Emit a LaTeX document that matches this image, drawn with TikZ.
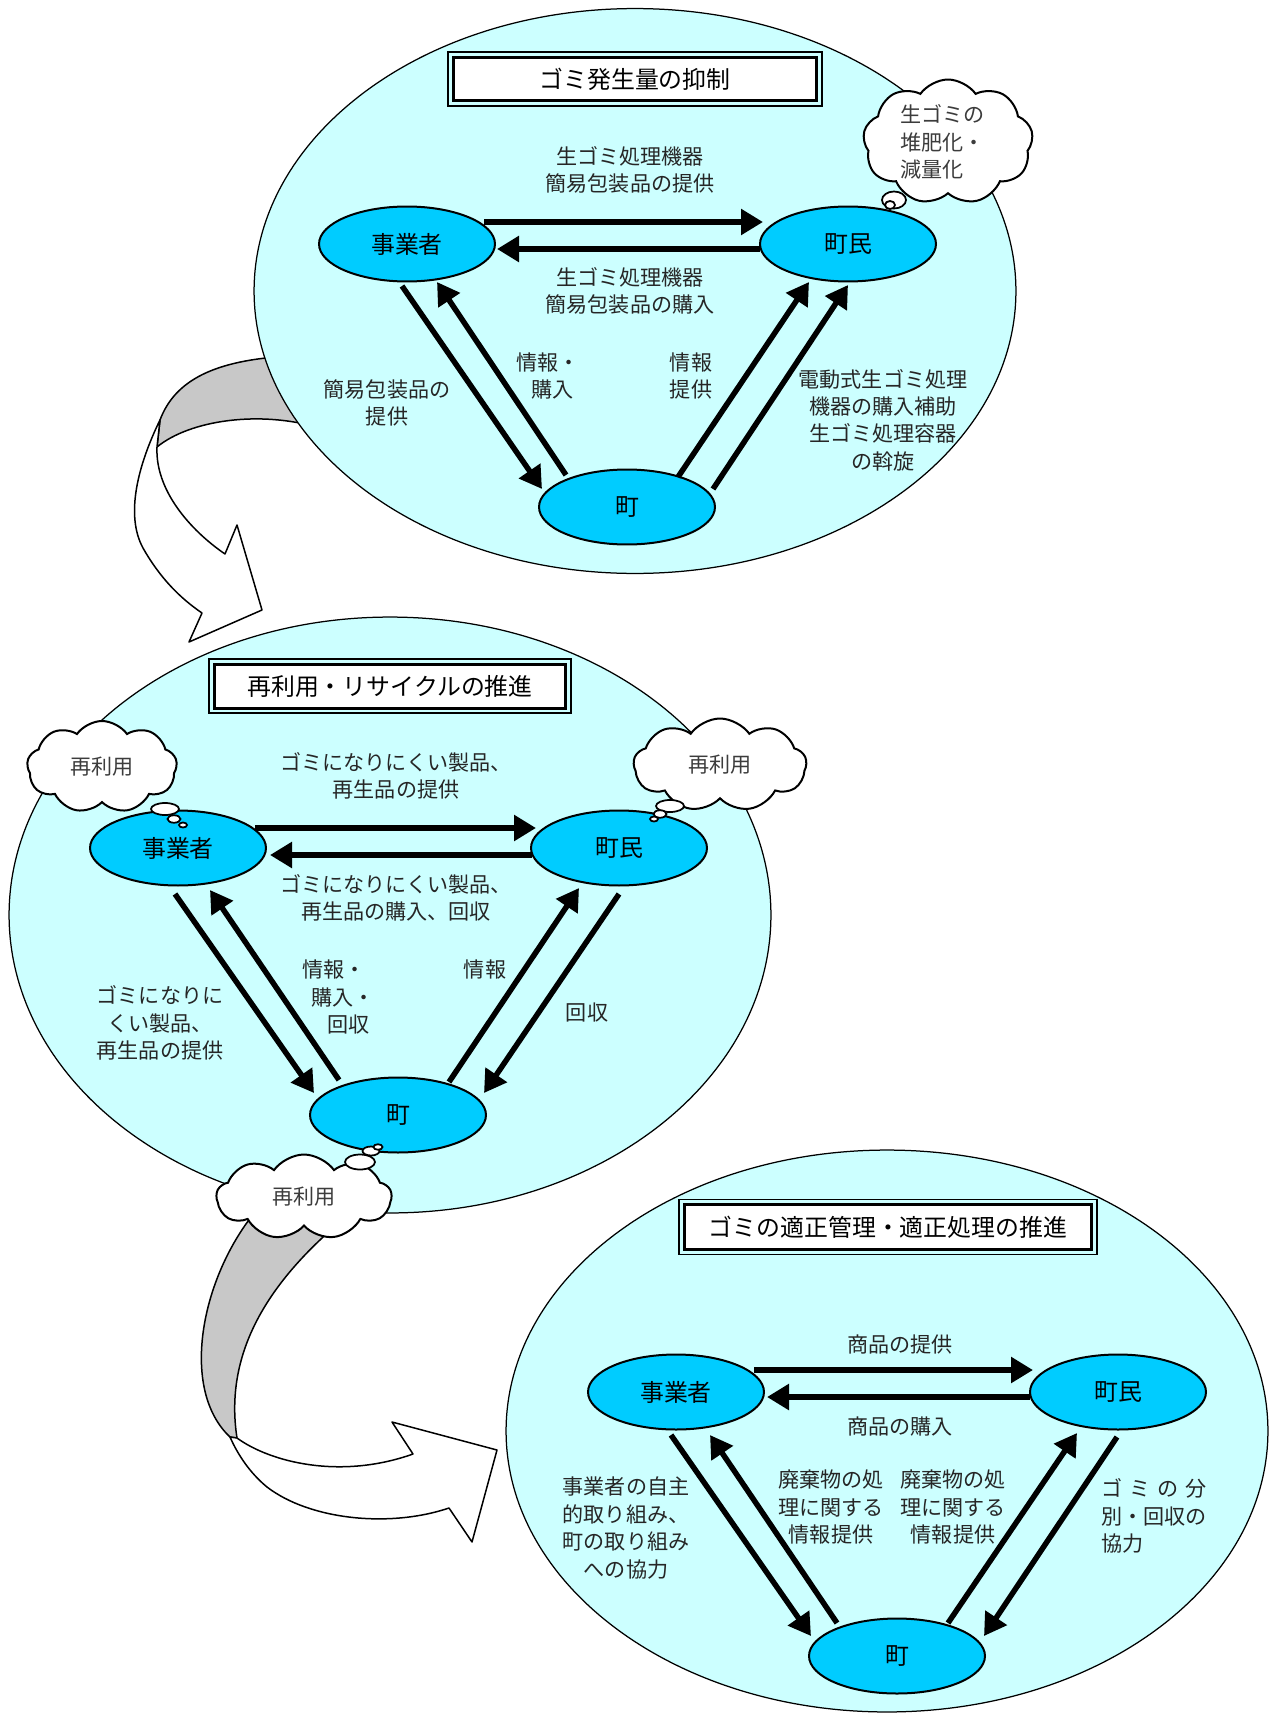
\documentclass[tikz,border=0pt]{standalone}
\usepackage{fontspec}
\setmainfont{Noto Sans CJK JP}
\usetikzlibrary{shapes.geometric,shapes.symbols,arrows.meta,calc}
\definecolor{bgcyan}{HTML}{CCFFFF}
\definecolor{nodeblue}{HTML}{00CCFF}
\definecolor{bandgray}{HTML}{C8C8C8}
\definecolor{labelink}{HTML}{262626}
\definecolor{cloudink}{HTML}{3C3C3C}
\begin{document}
\begin{tikzpicture}[x=0.02cm,y=-0.02cm,
  panel/.style={draw=black, line width=0.025cm, fill=bgcyan},
  party/.style={ellipse, draw=black, line width=0.04cm, fill=nodeblue,
    minimum width=3.52cm, minimum height=1.5cm, inner sep=0pt,
    font=\fontsize{13.6}{16}\selectfont},
  flow/.style={line width=0.11cm, -{Triangle[length=0.44cm,width=0.5cm]}},
  lab/.style={inner sep=0pt, align=center, text=labelink,
    font=\fontsize{12}{15.6}\selectfont},
  titlebox/.style={draw=black, line width=0.06cm, fill=white, inner sep=0pt,
    outer sep=0pt, font=\fontsize{13.6}{16}\selectfont},
  titleframe/.style={draw=black, line width=0.035cm},
  think/.style={cloud, cloud puffs=9, cloud puff arc=110, cloud ignores aspect, draw=black,
    line width=0.04cm, fill=white, inner sep=0pt, align=left, text=cloudink,
    font=\fontsize{12}{15.6}\selectfont},
  bubble/.style={draw=black, line width=0.035cm, fill=white},
  ribbon/.style={draw=black, line width=0.03cm, fill=white, line join=round},
  ribbonback/.style={draw=black, line width=0.03cm, fill=bandgray, line join=round},
]
\useasboundingbox (0,0) rectangle (1270,1713);

% ---- twisted ribbon arrows linking the stages ----
\draw[ribbonback] (160,420) .. controls (175,380) and (215,360) .. (290,356)
  -- (320,428) .. controls (260,410) and (190,420) .. (157,447) -- cycle;
\draw[ribbon] (160,420) .. controls (138,465) and (125,515) .. (143,548)
  .. controls (160,578) and (180,598) .. (202,613)
  -- (189,642) -- (262,610) -- (237,525) -- (225,554)
  .. controls (190,530) and (155,490) .. (157,447) -- cycle;

\draw[ribbonback] (255,1212) .. controls (200,1280) and (180,1390) .. (230,1437)
  -- (237,1438) .. controls (225,1360) and (260,1290) .. (340,1222) -- cycle;
\draw[ribbon] (230,1437) -- (237,1438) .. controls (270,1462) and (340,1480) .. (413,1454)
  -- (392,1422) -- (497,1450) -- (472,1542) -- (449,1508)
  .. controls (390,1528) and (310,1520) .. (267,1487)
  .. controls (250,1473) and (238,1455) .. (230,1437) -- cycle;

% ---- stage backgrounds ----
\draw[panel] (635,291) ellipse [x radius=7.62cm, y radius=5.65cm];
\draw[panel] (390,915) ellipse [x radius=7.62cm, y radius=5.96cm];
\draw[panel] (887,1431) ellipse [x radius=7.62cm, y radius=5.62cm];

% ---- stage titles ----
\node[titlebox, minimum width=7.28cm, minimum height=0.88cm] (t1) at (635,79) {ゴミ発生量の抑制};
\draw[titleframe] ($(t1.north west)+(-5,-5)$) rectangle ($(t1.south east)+(5,5)$);
\node[titlebox, minimum width=7.04cm, minimum height=0.88cm] (t2) at (390,686) {再利用・リサイクルの推進};
\draw[titleframe] ($(t2.north west)+(-5,-5)$) rectangle ($(t2.south east)+(5,5)$);
\node[titlebox, minimum width=8.16cm, minimum height=0.9cm] (t3) at (888,1227) {ゴミの適正管理・適正処理の推進};
\draw[titleframe] ($(t3.north west)+(-5,-5)$) rectangle ($(t3.south east)+(5,5)$);

% ---- stage 1 ----
\node[party] (biz1) at (407,244) {事業者};
\node[party] (res1) at (848,244) {町民};
\node[party] (town1) at (627,507) {町};
\draw[flow] ($(biz1.center)+(77,-22)$) -- ($(res1.center)+(-85,-22)$);
\draw[flow] ($(res1.center)+(-88,5)$) -- ($(biz1.center)+(90,5)$);
\draw[flow] ($(biz1.center)+(-5,42)$) -- ($(town1.center)+(-85,-18)$);
\draw[flow] ($(town1.center)+(-61,-32)$) -- ($(biz1.center)+(30,38)$);
\draw[flow] ($(town1.center)+(51,-30)$) -- ($(res1.center)+(-39,38)$);
\draw[flow] ($(town1.center)+(86,-18)$) -- ($(res1.center)+(0,41)$);
\node[lab] (l1a) at (630,170) {生ゴミ処理機器\\簡易包装品の提供};
\node[lab] (l1b) at (630,291) {生ゴミ処理機器\\簡易包装品の購入};
\node[lab] (l1c) at (387,403) {簡易包装品の\\提供};
\node[lab, align=left, anchor=west] (l1d) at (516,376) {情報・\\\hspace*{0.3cm}購入};
\node[lab] (l1e) at (691,376) {情報\\提供};
\node[lab] (l1f) at (883,420) {電動式生ゴミ処理\\機器の購入補助\\生ゴミ処理容器\\の斡旋};

% ---- stage 2 ----
\node[party] (biz2) at (178,848) {事業者};
\node[party] (res2) at (619,848) {町民};
\node[party] (town2) at (398,1115) {町};
\draw[flow] ($(biz2.center)+(77,-20)$) -- ($(res2.center)+(-83,-20)$);
\draw[flow] ($(res2.center)+(-87,7)$) -- ($(biz2.center)+(92,7)$);
\draw[flow] ($(biz2.center)+(-3,46)$) -- ($(town2.center)+(-84,-22)$);
\draw[flow] ($(town2.center)+(-59,-35)$) -- ($(biz2.center)+(32,42)$);
\draw[flow] ($(town2.center)+(51,-33)$) -- ($(res2.center)+(-40,40)$);
\draw[flow] ($(res2.center)+(0,46)$) -- ($(town2.center)+(86,-22)$);
\node[lab] (l2a) at (396,776) {ゴミになりにくい製品、\\再生品の提供};
\node[lab] (l2b) at (396,898) {ゴミになりにくい製品、\\再生品の購入、回収};
\node[lab] (l2c) at (160,1023) {ゴミになりに\\くい製品、\\再生品の提供};
\node[lab, align=left, anchor=west] (l2d) at (302,997) {情報・\\\hspace*{0.18cm}購入・\\\hspace*{0.5cm}回収};
\node[lab] (l2e) at (485,969) {情報};
\node[lab] (l2f) at (587,1013) {回収};

% ---- stage 3 ----
\node[party] (biz3) at (676,1392) {事業者};
\node[party] (res3) at (1118,1392) {町民};
\node[party] (town3) at (897,1656) {町};
\draw[flow] ($(biz3.center)+(78,-22)$) -- ($(res3.center)+(-85,-22)$);
\draw[flow] ($(res3.center)+(-88,5)$) -- ($(biz3.center)+(91,5)$);
\draw[flow] ($(biz3.center)+(-5,43)$) -- ($(town3.center)+(-86,-20)$);
\draw[flow] ($(town3.center)+(-60,-33)$) -- ($(biz3.center)+(34,43)$);
\draw[flow] ($(town3.center)+(51,-33)$) -- ($(res3.center)+(-41,41)$);
\draw[flow] ($(res3.center)+(-1,45)$) -- ($(town3.center)+(87,-20)$);
\node[lab] (l3a) at (900,1344) {商品の提供};
\node[lab] (l3b) at (900,1426) {商品の購入};
\node[lab] (l3c) at (626,1528) {事業者の自主\\的取り組み、\\町の取り組み\\への協力};
\node[lab] (l3d) at (831,1507) {廃棄物の処\\理に関する\\情報提供};
\node[lab] (l3e) at (953,1507) {廃棄物の処\\理に関する\\情報提供};
\node[lab, align=left, anchor=west] (l3f) at (1101,1516)
  {\makebox[5em]{ゴ\hfill ミ\hfill の\hfill 分}\\別・回収の\\協力};

% ---- thought clouds ----
\node[think, minimum width=3.4cm, minimum height=2.5cm] (c1) at (948,142) {生ゴミの\hspace*{0.5em}\\堆肥化・\\減量化};
\draw[bubble] (894,200) ellipse [x radius=0.24cm, y radius=0.17cm];
\draw[bubble] (890,205) ellipse [x radius=0.1cm, y radius=0.08cm];

\node[think, minimum width=3.0cm, minimum height=1.84cm] (c2) at (102,767) {再利用};
\draw[bubble] (165,809) ellipse [x radius=0.28cm, y radius=0.12cm];
\draw[bubble] (174,819) ellipse [x radius=0.13cm, y radius=0.075cm];
\draw[bubble] (183,825) ellipse [x radius=0.08cm, y radius=0.05cm];

\node[think, minimum width=3.46cm, minimum height=1.86cm] (c3) at (720,765) {再利用};
\draw[bubble] (670,806) ellipse [x radius=0.28cm, y radius=0.12cm];
\draw[bubble] (660,814) ellipse [x radius=0.13cm, y radius=0.075cm];
\draw[bubble] (654,819) ellipse [x radius=0.08cm, y radius=0.05cm];

\node[think, minimum width=3.5cm, minimum height=1.7cm] (c4) at (304,1197) {再利用};
\draw[bubble] (360,1162) ellipse [x radius=0.3cm, y radius=0.15cm];
\draw[bubble] (371,1151) ellipse [x radius=0.17cm, y radius=0.09cm];
\draw[bubble] (378,1147) ellipse [x radius=0.09cm, y radius=0.055cm];
\end{tikzpicture}
\end{document}
